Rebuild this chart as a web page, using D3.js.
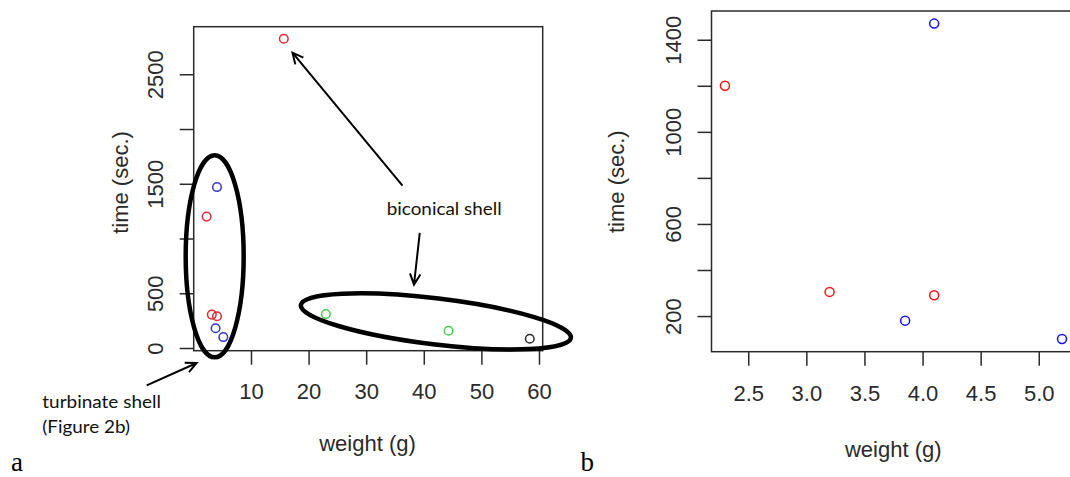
<!DOCTYPE html>
<html>
<head>
<meta charset="utf-8">
<script src="https://cdn.jsdelivr.net/npm/d3@7"></script>
<style>
  html, body { margin: 0; padding: 0; background: #fff; }
  svg { display: block; }
</style>
</head>
<body>
<svg id="chart" width="1070" height="477"></svg>
<script>
// ---------- data ----------
// panel a: all shells
const aWeight = [15.7, 4.1, 2.3, 3.2, 4.1, 3.85, 5.2, 23.0, 44.3, 58.4];
const aTime   = [2825, 1470, 1200, 305, 290, 180, 100, 310, 158, 85];
const aGroup  = ["red", "blue", "red", "red", "red", "blue", "blue", "green", "green", "black"];
const aXTicks = [10, 20, 30, 40, 50, 60];
const aXLabels = ["10", "20", "30", "40", "50", "60"];
const aYTicks = [0, 500, 1000, 1500, 2000, 2500];
const aYLabels = ["0", "500", "", "1500", "", "2500"];

// panel b: turbinate shells (Figure 2b)
const bWeight = [2.3, 4.1, 3.2, 3.85, 4.1, 5.2];
const bTime   = [1200, 1470, 305, 180, 290, 100];
const bGroup  = ["red", "blue", "red", "blue", "red", "blue"];
const bXTicks = [2.5, 3.0, 3.5, 4.0, 4.5, 5.0];
const bXLabels = ["2.5", "3.0", "3.5", "4.0", "4.5", "5.0"];
const bYTicks = [200, 400, 600, 800, 1000, 1200, 1400];
const bYLabels = ["200", "", "600", "", "1000", "", "1400"];

const xTitle = "weight (g)";
const yTitle = "time (sec.)";

// annotations (in data units of panel a)
const annEllipseTurb = { cx: 3.7, cy: 837 };
const annEllipseBicon = { cx: 42.1, cy: 243 };
const annArrows = [
  { x1: 36.3, y1: 1484, x2: 17.2, y2: 2697 },
  { x1: 39.3, y1: 1051, x2: 38.3, y2: 579 },
  { x1: -8.1, y1: -342, x2: 0.57, y2: -137 }
];

// ---------- helpers ----------
function rPad(ext) { const d = (ext[1] - ext[0]) * 0.04; return [ext[0] - d, ext[1] + d]; }

const svg = d3.select("#chart");
const FONT = "'Liberation Sans', Arial, sans-serif";
const AXCOL = "#2a2a2a";

function panel(cfg) {
  const x = d3.scaleLinear().domain(rPad(d3.extent(cfg.wx))).range([cfg.left, cfg.right]);
  const y = d3.scaleLinear().domain(rPad(d3.extent(cfg.ty))).range([cfg.bottom, cfg.top]);
  const g = svg.append("g");

  // x axis
  const xa = g.append("g").attr("transform", `translate(0,${cfg.bottom})`)
    .call(d3.axisBottom(x).tickValues(cfg.xt).tickSize(14).tickSizeOuter(0)
      .tickFormat((d, i) => cfg.xl[i]));
  xa.select(".domain").remove();
  xa.selectAll(".tick line").attr("stroke", AXCOL).attr("stroke-width", 1.5);
  xa.selectAll(".tick text").attr("y", cfg.xLabOff).attr("dy", 0)
    .attr("font-family", FONT).attr("font-size", 22).attr("fill", AXCOL);

  // y axis
  const ya = g.append("g").attr("transform", `translate(${cfg.left},0)`)
    .call(d3.axisLeft(y).tickValues(cfg.yt).tickSize(14).tickSizeOuter(0)
      .tickFormat((d, i) => cfg.yl[i]));
  ya.select(".domain").remove();
  ya.selectAll(".tick line").attr("stroke", AXCOL).attr("stroke-width", 1.5);
  ya.selectAll(".tick text").attr("x", 0).attr("dy", 0)
    .attr("transform", `translate(${-cfg.yLabOff},0) rotate(-90)`)
    .attr("text-anchor", "middle")
    .attr("font-family", FONT).attr("font-size", 22).attr("fill", AXCOL);

  // box
  g.append("rect").attr("x", cfg.left).attr("y", cfg.top)
    .attr("width", cfg.right - cfg.left).attr("height", cfg.bottom - cfg.top)
    .attr("fill", "none").attr("stroke", AXCOL).attr("stroke-width", 1.5);

  // points
  g.append("g").selectAll("circle").data(cfg.wx).join("circle")
    .attr("cx", d => x(d))
    .attr("cy", (d, i) => y(cfg.ty[i]))
    .attr("r", cfg.r)
    .attr("fill", "none")
    .attr("stroke", (d, i) => cfg.colors[cfg.grp[i]])
    .attr("stroke-width", 1.5);

  // titles
  g.append("text").attr("x", (cfg.left + Math.min(cfg.right, 1075)) / 2 + cfg.xTitleShift).attr("y", cfg.xTitleY)
    .attr("text-anchor", "middle").attr("font-family", FONT).attr("font-size", 22)
    .attr("fill", AXCOL).text(xTitle);
  g.append("text")
    .attr("transform", `translate(${cfg.yTitleX},${cfg.yTitleCY}) rotate(-90)`)
    .attr("text-anchor", "middle").attr("font-family", FONT).attr("font-size", 22)
    .attr("fill", AXCOL).text(yTitle);
  return { x, y, g };
}

// ---------- panel a ----------
const A = panel({
  wx: aWeight, ty: aTime, grp: aGroup, xt: aXTicks, xl: aXLabels, yt: aYTicks, yl: aYLabels,
  left: 193.7, right: 542.7, top: 26.7, bottom: 350.7, r: 4.3,
  xLabOff: 48.3, yLabOff: 30.7, xTitleY: 450.5, xTitleShift: -0.7, yTitleX: 127.5, yTitleCY: 182.5,
  colors: { red: "#e02a30", blue: "#3434d8", green: "#45d045", black: "#2a2a2a" }
});

// ---------- panel b ----------
const B = panel({
  wx: bWeight, ty: bTime, grp: bGroup, xt: bXTicks, xl: bXLabels, yt: bYTicks, yl: bYLabels,
  left: 711.5, right: 1075.5, top: 11, bottom: 351.7, r: 4.5,
  xLabOff: 49.5, yLabOff: 31, xTitleY: 456.5, xTitleShift: 0, yTitleX: 624, yTitleCY: 181.7,
  colors: { red: "#ff1010", blue: "#1010ff", green: "#00cd00", black: "#000" }
});

// ---------- annotations on panel a ----------
const ann = svg.append("g");
const ANNFONT = "Lato, 'Open Sans', sans-serif";

// turbinate ellipse (around the small shells)
ann.append("ellipse")
  .attr("cx", A.x(annEllipseTurb.cx)).attr("cy", A.y(annEllipseTurb.cy))
  .attr("rx", 29).attr("ry", 101)
  .attr("fill", "none").attr("stroke", "#000").attr("stroke-width", 4.5);

// biconical ellipse (around the large shells: green + black)
ann.append("ellipse")
  .attr("transform", `translate(${A.x(annEllipseBicon.cx)},${A.y(annEllipseBicon.cy)}) rotate(6.9)`)
  .attr("rx", 136).attr("ry", 23)
  .attr("fill", "none").attr("stroke", "#000").attr("stroke-width", 4.5);

// arrows
annArrows.forEach(a => {
  const x1 = A.x(a.x1), y1 = A.y(a.y1), x2 = A.x(a.x2), y2 = A.y(a.y2);
  const ang = Math.atan2(y2 - y1, x2 - x1);
  const L = 12, sp = 0.45;
  const p = `M${x1},${y1}L${x2},${y2}` +
    `M${x2 - L * Math.cos(ang - sp)},${y2 - L * Math.sin(ang - sp)}L${x2},${y2}` +
    `L${x2 - L * Math.cos(ang + sp)},${y2 - L * Math.sin(ang + sp)}`;
  ann.append("path").attr("d", p).attr("fill", "none")
    .attr("stroke", "#000").attr("stroke-width", 2).attr("stroke-linejoin", "miter");
});

// annotation texts
ann.append("text").attr("x", 386.7).attr("y", 215).attr("font-family", ANNFONT)
  .attr("font-size", 18).attr("fill", "#111").attr("textLength", 115).attr("lengthAdjust", "spacingAndGlyphs")
  .text("biconical shell");
ann.append("text").attr("x", 42.3).attr("y", 408.3).attr("font-family", ANNFONT)
  .attr("font-size", 18).attr("fill", "#111").attr("textLength", 118.7).attr("lengthAdjust", "spacingAndGlyphs")
  .text("turbinate shell");
ann.append("text").attr("x", 42.3).attr("y", 432.7).attr("font-family", ANNFONT)
  .attr("font-size", 18).attr("fill", "#111").attr("textLength", 87.7).attr("lengthAdjust", "spacingAndGlyphs")
  .text("(Figure 2b)");

// panel letters
const SERIF = "'Liberation Serif', 'Times New Roman', serif";
svg.append("text").attr("x", 11).attr("y", 470.5).attr("font-family", SERIF)
  .attr("font-size", 27).attr("fill", "#000").text("a");
svg.append("text").attr("x", 580.5).attr("y", 470.5).attr("font-family", SERIF)
  .attr("font-size", 27).attr("fill", "#000").text("b");
</script>
</body>
</html>
